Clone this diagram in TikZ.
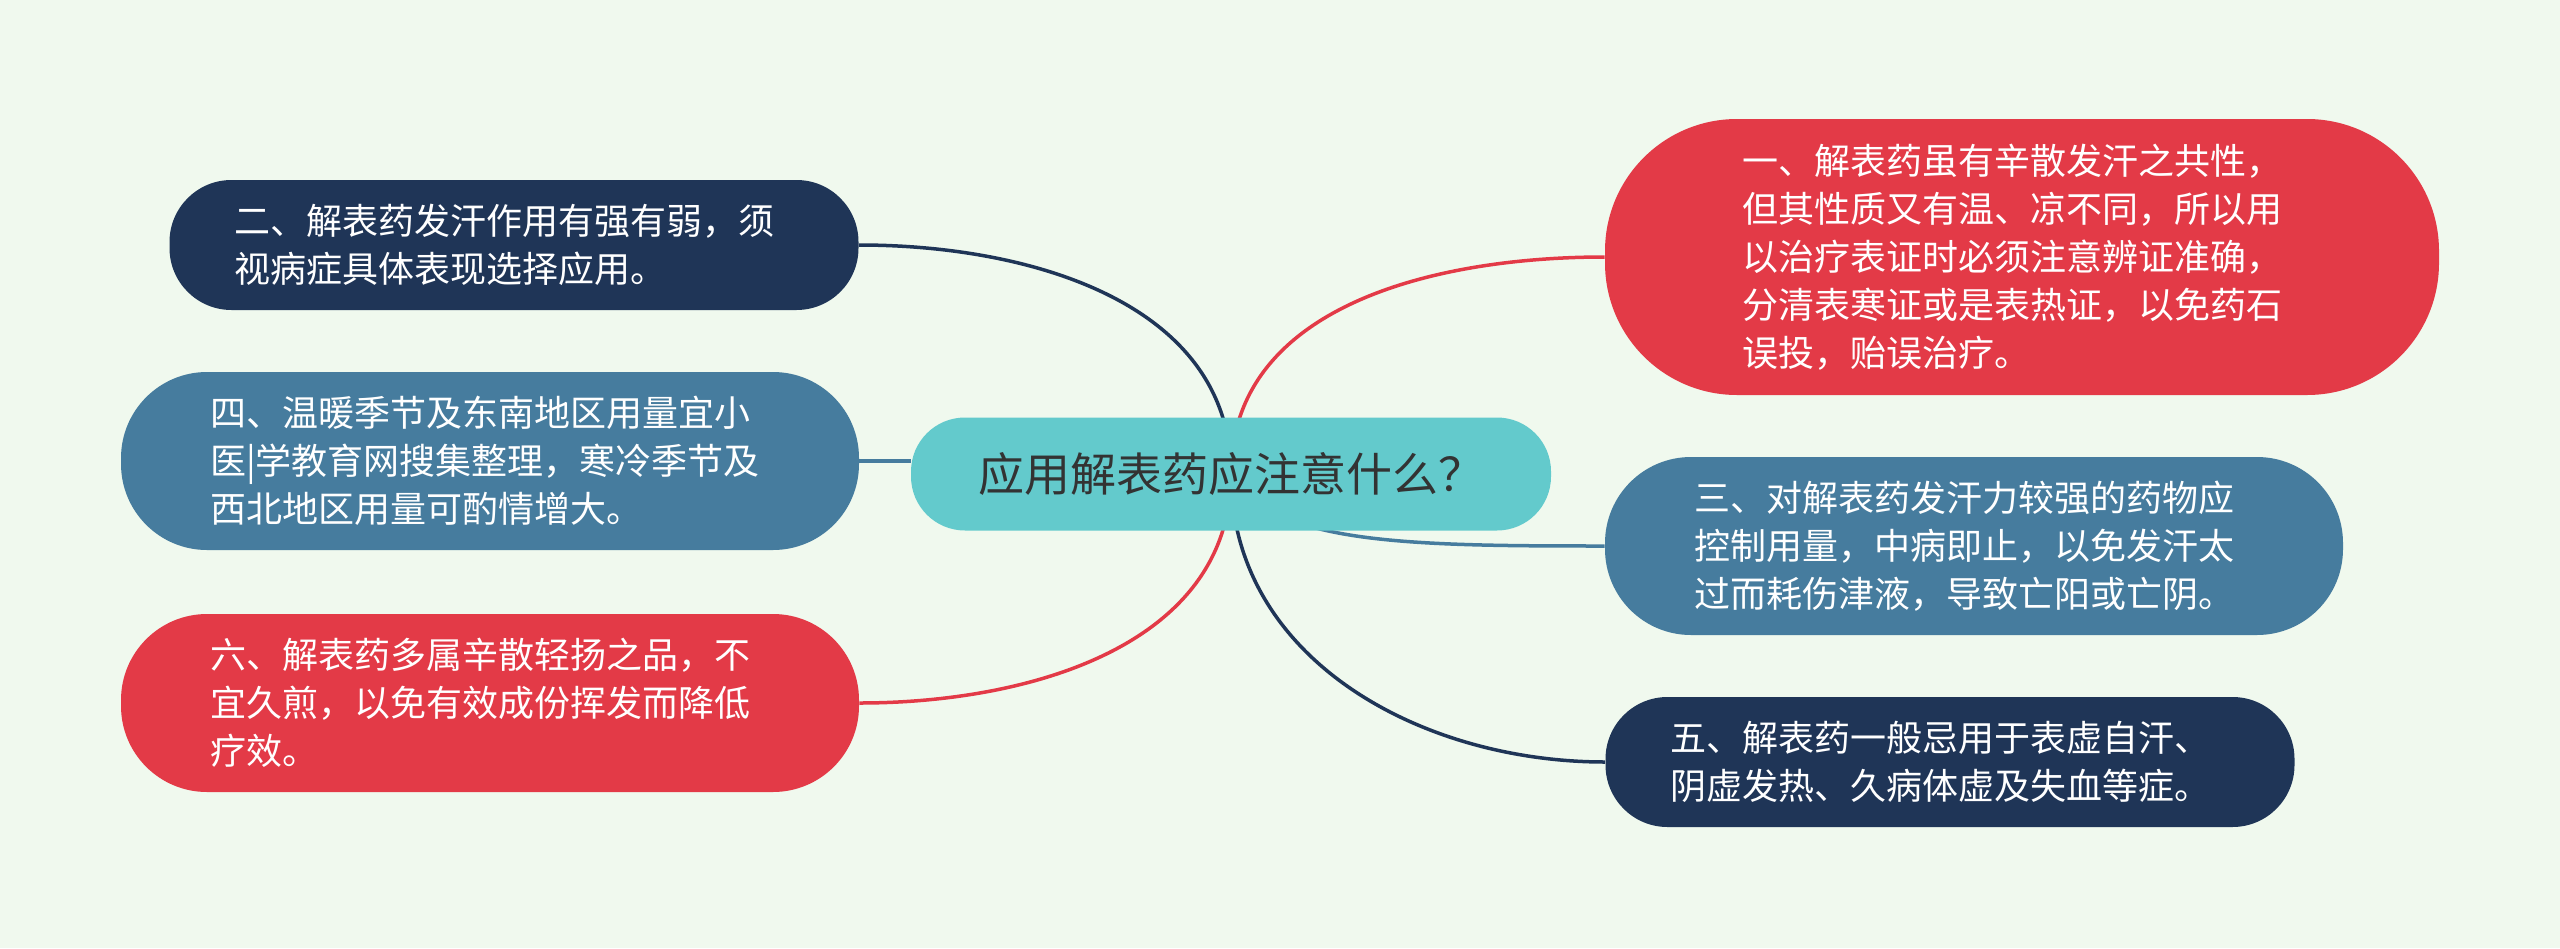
\documentclass[tikz,border=0pt]{standalone}
\usepackage{fontspec}
\setmainfont{Noto Sans CJK SC}
\usetikzlibrary{backgrounds}
\definecolor{bgcol}{HTML}{F0F9EE}
\definecolor{redcol}{HTML}{E33A47}
\definecolor{navycol}{HTML}{1F3557}
\definecolor{bluecol}{HTML}{467C9E}
\definecolor{tealcol}{HTML}{63CACC}
\definecolor{inkcol}{HTML}{333333}

\begin{document}
\begin{tikzpicture}[x=0.5pt,y=0.5pt,
    topic/.style={fill=tealcol,text=inkcol,rounded corners=27pt,inner sep=0pt,
      minimum width=320pt,minimum height=56.5pt,font=\fontsize{23pt}{28pt}\selectfont},
    leaf/.style={text=white,text width=280pt,align=left,inner sep=0pt,
      font=\fontsize{18pt}{24pt}\selectfont},
    boxfive/.style={leaf,minimum width=417pt,minimum height=138pt,rounded corners=66pt},
    boxthree/.style={leaf,minimum width=369pt,minimum height=89pt,rounded corners=43pt},
    boxtwo/.style={leaf,minimum width=344.5pt,minimum height=65pt,rounded corners=31pt},
    link/.style={line width=1.75pt}]
        \useasboundingbox (0,0) rectangle (2560,-948);
        \node[topic] (root) at (1231,-474) {应用解表药应注意什么？};
        \node[boxfive,fill=redcol] (n1) at (2022,-257) {一、解表药虽有辛散发汗之共性，\\但其性质又有温、凉不同，所以用\\以治疗表证时必须注意辨证准确，\\分清表寒证或是表热证，以免药石\\误投，贻误治疗。};
        \node[boxtwo,fill=navycol] (n2) at (514,-245) {二、解表药发汗作用有强有弱，须\\视病症具体表现选择应用。};
        \node[boxthree,fill=bluecol] (n3) at (1974,-546) {三、对解表药发汗力较强的药物应\\控制用量，中病即止，以免发汗太\\过而耗伤津液，导致亡阳或亡阴。};
        \node[boxthree,fill=bluecol] (n4) at (490,-461) {四、温暖季节及东南地区用量宜小\\医|学教育网搜集整理，寒冷季节及\\西北地区用量可酌情增大。};
        \node[boxtwo,fill=navycol] (n5) at (1950,-762) {五、解表药一般忌用于表虚自汗、\\阴虚发热、久病体虚及失血等症。};
        \node[boxthree,fill=redcol] (n6) at (490,-703) {六、解表药多属辛散轻扬之品，不\\宜久煎，以免有效成份挥发而降低\\疗效。};
        \begin{scope}[on background layer]
        \fill[bgcol] (0,0) rectangle (2560,-948);
        \draw[link,redcol] (root.center) to[out=90,in=180] (n1.west);
        \draw[link,navycol] (root.center) to[out=90,in=0] (n2.east);
        \draw[link,bluecol] (root.center) .. controls +(40,-70) and +(-200,0) .. (n3.west);
        \draw[link,bluecol] (n4.east) -- (n4.east -| root.west);
        \draw[link,navycol] (root.center) to[out=-90,in=180] (n5.west);
        \draw[link,redcol] (root.center) to[out=-90,in=0] (n6.east);
        \end{scope}
\end{tikzpicture}
\end{document}
